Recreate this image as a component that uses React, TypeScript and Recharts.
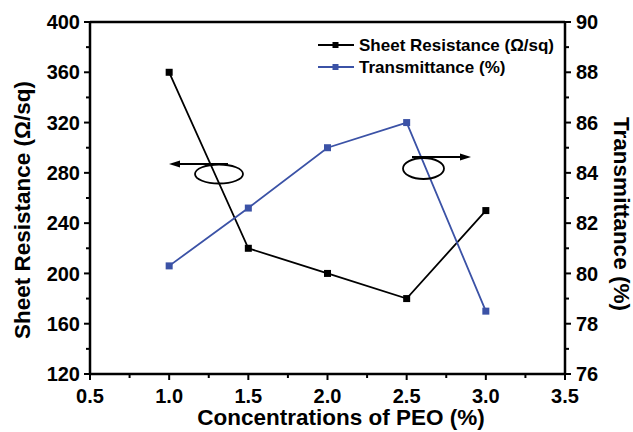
import React from 'react';
import { LineChart, Line, XAxis, YAxis, Legend, ReferenceLine } from 'recharts';

const peoConcentration = [1.0, 1.5, 2.0, 2.5, 3.0];
const sheetResistance = [360, 220, 200, 180, 250];
const transmittance = [80.3, 82.6, 85.0, 86.0, 78.5];

const seriesNames = ['Sheet Resistance (\u03A9/sq)', 'Transmittance (%)'];
const xTitle = 'Concentrations of PEO (%)';
const leftTitle = 'Sheet Resistance (\u03A9/sq)';
const rightTitle = 'Transmittance (%)';

const xMajorTicks = [0.5, 1.0, 1.5, 2.0, 2.5, 3.0, 3.5];
const xMinorTicks = [0.75, 1.25, 1.75, 2.25, 2.75, 3.25];
const leftMajorTicks = [120, 160, 200, 240, 280, 320, 360, 400];
const leftMinorTicks = [140, 180, 220, 260, 300, 340, 380];
const rightMajorTicks = [76, 78, 80, 82, 84, 86, 88, 90];
const rightMinorTicks = [77, 79, 81, 83, 85, 87, 89];

const data = peoConcentration.map((x, i) => ({
  x,
  sheet: sheetResistance[i],
  trans: transmittance[i],
}));

const FONT = '"Liberation Sans", Arial, Helvetica, sans-serif';
const BLUE = '#3b52a6';
const AXIS_W = 2.5;

const sortNum = (a: number[]) => [...a].sort((p, q) => p - q);

const XTick = (props: any) => {
  const { x, y, payload } = props;
  const major = xMajorTicks.includes(payload.value);
  return (
    <g>
      <line x1={x} x2={x} y1={y} y2={y + (major ? 6 : 4)} stroke="#000" strokeWidth={2} />
      {major && (
        <text x={x} y={y + 29} textAnchor="middle" fontFamily={FONT} fontWeight="bold" fontSize={20} fill="#000">
          {payload.value.toFixed(1)}
        </text>
      )}
    </g>
  );
};

const LeftTick = (props: any) => {
  const { x, y, payload } = props;
  const major = leftMajorTicks.includes(payload.value);
  return (
    <g>
      <line x1={x} x2={x - (major ? 6 : 4)} y1={y} y2={y} stroke="#000" strokeWidth={2} />
      {major && (
        <text x={x - 10} y={y} dy="0.36em" textAnchor="end" fontFamily={FONT} fontWeight="bold" fontSize={20} fill="#000">
          {payload.value}
        </text>
      )}
    </g>
  );
};

const RightTick = (props: any) => {
  const { x, y, payload } = props;
  const major = rightMajorTicks.includes(payload.value);
  return (
    <g>
      <line x1={x} x2={x + (major ? 6 : 4)} y1={y} y2={y} stroke="#000" strokeWidth={2} />
      {major && (
        <text x={x + 11} y={y} dy="0.36em" textAnchor="start" fontFamily={FONT} fontWeight="bold" fontSize={20} fill="#000">
          {payload.value}
        </text>
      )}
    </g>
  );
};

const squareDot = (color: string) => (p: any) => (
  <rect key={`d-${p.index}`} x={p.cx - 3.5} y={p.cy - 3.5} width={7} height={7} fill={color} />
);

const LegendContent = (props: any) => {
  const payload = props.payload || [];
  return (
    <svg width={250} height={46}>
      {payload.map((entry: any, i: number) => {
        const cy = 11 + i * 22;
        return (
          <g key={i}>
            <line x1={2} x2={38} y1={cy} y2={cy} stroke={entry.color} strokeWidth={1.8} />
            <rect x={16.5} y={cy - 3} width={6} height={6} fill={entry.color} />
            <text x={43} y={cy} dy="0.36em" fontFamily={FONT} fontWeight="bold" fontSize={17} fill="#000">
              {entry.value}
            </text>
          </g>
        );
      })}
    </svg>
  );
};

const Arrow = ({ x1, x2, y }: { x1: number; x2: number; y: number }) => {
  const dir = x2 > x1 ? 1 : -1;
  const tip = x2;
  const base = x2 - dir * 11;
  return (
    <g>
      <line x1={x1} x2={base} y1={y} y2={y} stroke="#000" strokeWidth={1.8} />
      <polygon points={`${tip},${y} ${base},${y - 3.5} ${base},${y + 3.5}`} fill="#000" />
    </g>
  );
};

export default function App() {
  return (
    <div style={{ position: 'absolute', left: 0, top: 0, width: 633, height: 432, background: '#fff' }}>
      <LineChart
        width={633}
        height={432}
        data={data}
        margin={{ top: 22, right: 0, bottom: 0, left: 0 }}
      >
        <XAxis
          dataKey="x"
          type="number"
          domain={[0.5, 3.5]}
          ticks={sortNum([...xMajorTicks, ...xMinorTicks])}
          interval={0}
          height={58}
          tickSize={0}
          tickMargin={0}
          tickLine={false}
          axisLine={{ stroke: '#000', strokeWidth: AXIS_W }}
          tick={<XTick />}
          label={{
            content: () => (
              <text x={341} y={425} textAnchor="middle" fontFamily={FONT} fontWeight="bold" fontSize={22.5} fill="#000">
                {xTitle}
              </text>
            ),
          }}
        />
        <YAxis
          yAxisId="left"
          orientation="left"
          type="number"
          domain={[120, 400]}
          ticks={sortNum([...leftMajorTicks, ...leftMinorTicks])}
          interval={0}
          width={90}
          tickSize={0}
          tickMargin={0}
          tickLine={false}
          axisLine={{ stroke: '#000', strokeWidth: AXIS_W }}
          tick={<LeftTick />}
          label={{
            content: () => (
              <text
                x={22}
                y={210}
                transform="rotate(-90 22 210)"
                textAnchor="middle"
                dominantBaseline="central"
                fontFamily={FONT}
                fontWeight="bold"
                fontSize={22.5}
                fill="#000"
              >
                {leftTitle}
              </text>
            ),
          }}
        />
        <YAxis
          yAxisId="right"
          orientation="right"
          type="number"
          domain={[76, 90]}
          ticks={sortNum([...rightMajorTicks, ...rightMinorTicks])}
          interval={0}
          width={68}
          tickSize={0}
          tickMargin={0}
          tickLine={false}
          axisLine={{ stroke: '#000', strokeWidth: AXIS_W }}
          tick={<RightTick />}
          label={{
            content: () => (
              <text
                x={621}
                y={214}
                transform="rotate(90 621 214)"
                textAnchor="middle"
                dominantBaseline="central"
                fontFamily={FONT}
                fontWeight="bold"
                fontSize={22.5}
                fill="#000"
              >
                {rightTitle}
              </text>
            ),
          }}
        />
        <ReferenceLine yAxisId="left" y={400} stroke="#000" strokeWidth={AXIS_W} />
        <Legend
          layout="vertical"
          align="center"
          verticalAlign="middle"
          wrapperStyle={{ position: 'absolute', top: 34, left: 316, width: 250, height: 46 }}
          content={<LegendContent />}
        />
        <Line
          yAxisId="left"
          dataKey="sheet"
          name={seriesNames[0]}
          stroke="#000"
          strokeWidth={1.8}
          dot={squareDot('#000')}
          activeDot={false}
          isAnimationActive={false}
        />
        <Line
          yAxisId="right"
          dataKey="trans"
          name={seriesNames[1]}
          stroke={BLUE}
          strokeWidth={1.8}
          dot={squareDot(BLUE)}
          activeDot={false}
          isAnimationActive={false}
        />
      </LineChart>
      <svg
        width={633}
        height={432}
        style={{ position: 'absolute', left: 0, top: 0, pointerEvents: 'none' }}
      >
        <Arrow x1={228} x2={169} y={164} />
        <ellipse cx={219} cy={174} rx={24} ry={9.5} fill="none" stroke="#000" strokeWidth={1.8} />
        <Arrow x1={412} x2={471} y={157} />
        <ellipse cx={423.5} cy={168.5} rx={20.5} ry={10.5} fill="none" stroke="#000" strokeWidth={1.8} />
      </svg>
    </div>
  );
}
